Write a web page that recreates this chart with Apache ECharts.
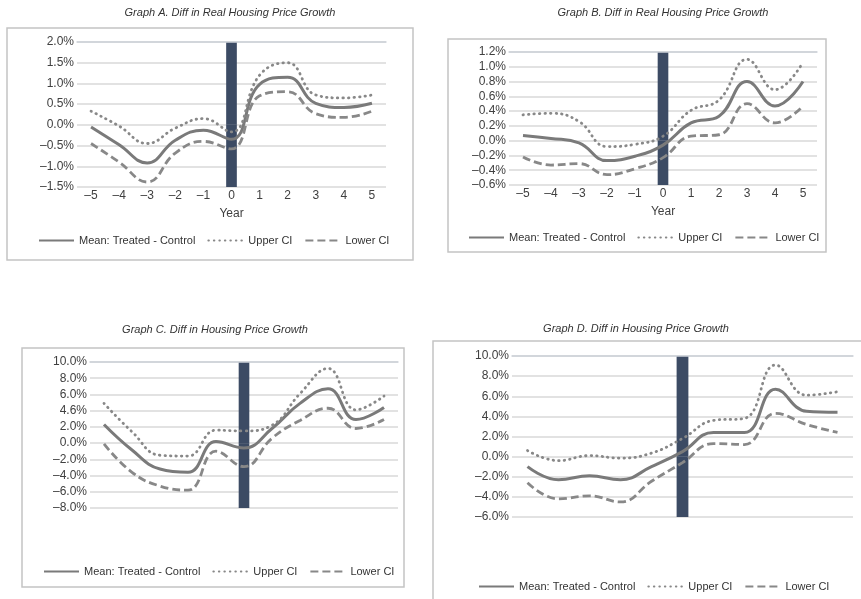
<!DOCTYPE html>
<html>
<head>
<meta charset="utf-8">
<script src="https://cdn.jsdelivr.net/npm/echarts@6/dist/echarts.min.js"></script>
<style>
  html, body { margin: 0; padding: 0; background: #fff; }
  #main { width: 861px; height: 599px; }
</style>
</head>
<body>
<div id="main"></div>
<script>
  // categories (event year)
  var years = ['–5', '–4', '–3', '–2', '–1', '0', '1', '2', '3', '4', '5'];

  // Graph A. Diff in Real Housing Price Growth (%)
  var meanA  = [-0.05, -0.48, -0.92, -0.37, -0.13, -0.35, 0.98, 1.15, 0.52, 0.42, 0.52];
  var upperA = [0.33, -0.03, -0.45, -0.08, 0.15, -0.17, 1.2, 1.5, 0.72, 0.65, 0.72];
  var lowerA = [-0.45, -0.9, -1.38, -0.68, -0.4, -0.58, 0.7, 0.8, 0.27, 0.18, 0.33];
  var yTicksA = ['–1.5%', '–1.0%', '–0.5%', '0.0%', '0.5%', '1.0%', '1.5%', '2.0%'];

  // Graph B. Diff in Real Housing Price Growth (%)
  var meanB  = [0.07, 0.03, -0.03, -0.27, -0.21, -0.06, 0.24, 0.33, 0.80, 0.47, 0.80];
  var upperB = [0.35, 0.37, 0.26, -0.08, -0.05, 0.06, 0.41, 0.55, 1.10, 0.69, 1.06];
  var lowerB = [-0.22, -0.33, -0.31, -0.46, -0.38, -0.23, 0.06, 0.08, 0.50, 0.24, 0.47];
  var yTicksB = ['–0.6%', '–0.4%', '–0.2%', '0.0%', '0.2%', '0.4%', '0.6%', '0.8%', '1.0%', '1.2%'];

  // Graph C. Diff in Housing Price Growth (%)
  var meanC  = [2.3, -0.85, -3.2, -3.6, 0.2, -0.6, 1.8, 4.9, 6.7, 2.9, 4.4];
  var upperC = [4.9, 1.4, -1.5, -1.6, 1.6, 1.5, 2.2, 6.1, 9.2, 4.1, 5.8];
  var lowerC = [-0.1, -3.6, -5.3, -5.8, -1.0, -2.9, 0.6, 2.8, 4.3, 1.8, 2.9];
  var yTicksC = ['–8.0%', '–6.0%', '–4.0%', '–2.0%', '0.0%', '2.0%', '4.6%', '6.0%', '8.0%', '10.0%'];

  // Graph D. Diff in Housing Price Growth (%)
  var meanD  = [-1.0, -2.3, -1.9, -2.3, -1.0, 0.5, 2.4, 2.4, 6.7, 4.5, 4.4];
  var upperD = [0.6, -0.4, 0.1, -0.15, 0.35, 1.8, 3.6, 3.8, 9.1, 6.1, 6.45];
  var lowerD = [-2.6, -4.2, -3.9, -4.5, -2.45, -0.6, 1.3, 1.2, 4.3, 3.2, 2.4];
  var yTicksD = ['–6.0%', '–4.0%', '–2.0%', '0.0%', '2.0%', '4.0%', '6.0%', '8.0%', '10.0%'];

  // event-year bar (year 0) runs over the whole axis range
  var barTop = [2.0, 1.2, 10, 10];
  var barBottom = [-1.5, -0.6, -8, -6];
  var yInterval = [0.5, 0.2, 2, 2];

  var panels = [
    {title: 'Graph A. Diff in Real Housing Price Growth', mean: meanA, upper: upperA, lower: lowerA, ticks: yTicksA,
      grid: {left: 77, top: 42, width: 309, height: 145}, titleX: 230, titleY: 7, legendX: 38, legendY: 235,
      frame: {x: 7, y: 28, width: 406, height: 232}, showX: true},
    {title: 'Graph B. Diff in Real Housing Price Growth', mean: meanB, upper: upperB, lower: lowerB, ticks: yTicksB,
      grid: {left: 509, top: 52, width: 308, height: 133}, titleX: 663, titleY: 7, legendX: 468, legendY: 232,
      frame: {x: 448, y: 39, width: 378, height: 213}, showX: true},
    {title: 'Graph C. Diff in Housing Price Growth', mean: meanC, upper: upperC, lower: lowerC, ticks: yTicksC,
      grid: {left: 90, top: 362, width: 308, height: 146}, titleX: 215, titleY: 324, legendX: 43, legendY: 566,
      frame: {x: 22, y: 348, width: 382, height: 239}, showX: false},
    {title: 'Graph D. Diff in Housing Price Growth', mean: meanD, upper: upperD, lower: lowerD, ticks: yTicksD,
      grid: {left: 512, top: 356, width: 341, height: 161}, titleX: 636, titleY: 323, legendX: 478, legendY: 581,
      frame: {x: 433, y: 341, width: 440, height: 280}, showX: false}
  ];

  var FONT = '"Liberation Sans", Arial, sans-serif';
  var LINE_GRAY = '#7a7a7a';
  var CI_GRAY = '#888888';
  var BAR_COLOR = '#3c4b64';

  var titles = [], grids = [], xAxes = [], yAxes = [], legends = [], series = [], graphics = [];

  panels.forEach(function (p, i) {
    titles.push({
      text: p.title, left: p.titleX, top: p.titleY, textAlign: 'center', padding: 0,
      textStyle: {fontSize: 11, fontStyle: 'italic', fontWeight: 'normal', color: '#333', fontFamily: FONT}
    });
    grids.push(p.grid);
    // bottom axis with the year labels
    xAxes.push({
      type: 'category', gridIndex: i, data: years, position: 'bottom',
      axisLine: {show: false}, axisTick: {show: false},
      axisLabel: {show: p.showX, margin: 3, fontSize: 12, color: '#404040', fontFamily: FONT},
      name: p.showX ? 'Year' : '', nameLocation: 'middle', nameGap: 21,
      nameTextStyle: {fontSize: 12, color: '#404040', fontFamily: FONT}
    });
    // zero line drawn across the event-year bar
    xAxes.push({
      type: 'category', gridIndex: i, data: years, z: 2,
      axisLine: {show: true, onZero: true, lineStyle: {color: '#cdd2d9', width: 1.5}},
      axisTick: {show: false}, axisLabel: {show: false}
    });
    var ticks = p.ticks;
    yAxes.push({
      type: 'value', gridIndex: i, min: barBottom[i], max: barTop[i], interval: yInterval[i],
      axisLine: {show: false}, axisTick: {show: false},
      splitLine: {lineStyle: {color: '#d9d9d9', width: 1.5}},
      axisLabel: {
        margin: 3, fontSize: 12, color: '#404040', fontFamily: FONT,
        formatter: function (v) {
          return ticks[Math.round((v - barBottom[i]) / yInterval[i])];
        }
      }
    });
    legends.push({
      left: p.legendX, top: p.legendY, padding: 0, itemWidth: 35, itemHeight: 10, itemGap: 12,
      data: ['Mean: Treated - Control', 'Upper CI', 'Lower CI'],
      itemStyle: {opacity: 0},
      textStyle: {fontSize: 11, color: '#333', fontFamily: FONT}
    });

    var up = years.map(function (y, k) { return k === 5 ? barTop[i] : null; });
    var dn = years.map(function (y, k) { return k === 5 ? barBottom[i] : null; });
    series.push(
      {type: 'bar', name: 'event' + i, xAxisIndex: 2 * i, yAxisIndex: i, stack: 'ev' + i, data: up,
        barWidth: '38%', z: 1, itemStyle: {color: BAR_COLOR}, silent: true},
      {type: 'bar', name: 'event' + i, xAxisIndex: 2 * i, yAxisIndex: i, stack: 'ev' + i, data: dn,
        barWidth: '38%', z: 1, itemStyle: {color: BAR_COLOR}, silent: true},
      {type: 'line', name: 'Mean: Treated - Control', xAxisIndex: 2 * i, yAxisIndex: i, data: p.mean,
        smooth: 0.45, symbol: 'none', z: 3, lineStyle: {color: LINE_GRAY, width: 3}, itemStyle: {color: LINE_GRAY}},
      {type: 'line', name: 'Upper CI', xAxisIndex: 2 * i, yAxisIndex: i, data: p.upper,
        smooth: 0.45, symbol: 'none', z: 3, lineStyle: {color: CI_GRAY, width: 2.8, type: [0.5, 5], cap: 'round'},
        itemStyle: {color: CI_GRAY}},
      {type: 'line', name: 'Lower CI', xAxisIndex: 2 * i, yAxisIndex: i, data: p.lower,
        smooth: 0.45, symbol: 'none', z: 3, lineStyle: {color: CI_GRAY, width: 2.8, type: [8, 4]},
        itemStyle: {color: CI_GRAY}}
    );

    graphics.push({
      type: 'rect', shape: p.frame, silent: true, z: -1,
      style: {fill: null, stroke: '#c4c4c4', lineWidth: 1.5}
    });
  });

  var chart = echarts.init(document.getElementById('main'));
  chart.setOption({
    backgroundColor: '#fff',
    animation: false,
    title: titles,
    grid: grids,
    xAxis: xAxes,
    yAxis: yAxes,
    legend: legends,
    graphic: graphics,
    series: series
  });
</script>
</body>
</html>
